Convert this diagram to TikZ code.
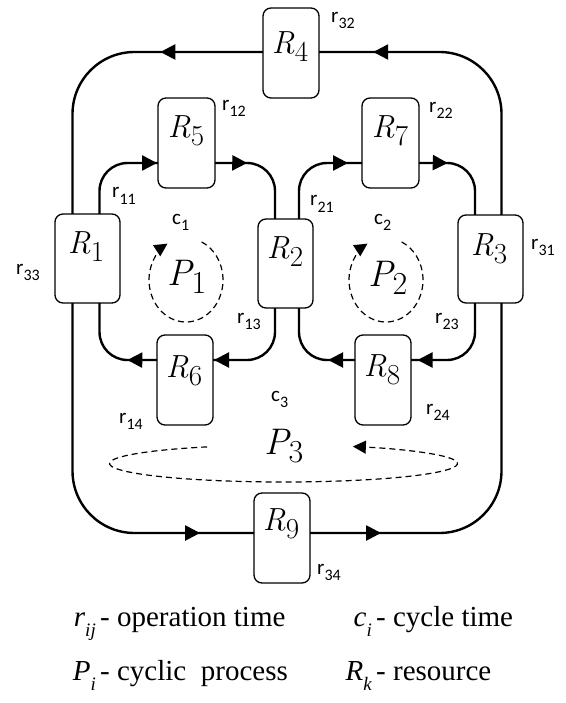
\documentclass[tikz,border=0pt]{standalone}
\usepackage{fontspec}
\newfontfamily\calib{Carlito}
\newfontfamily\tnr{Liberation Serif}
\usetikzlibrary{arrows.meta,decorations.markings}
\newcommand\Rlab[1]{{\fontsize{32}{32}\selectfont\itshape R}\raisebox{-8pt}{\fontsize{29}{29}\selectfont #1}}
\newcommand\Plab[1]{{\fontsize{37}{37}\selectfont\itshape P}\raisebox{-8pt}{\fontsize{32}{32}\selectfont #1}}
\newcommand\rlab[2]{{\calib\fontsize{21}{21}\selectfont #1\raisebox{-6pt}{\fontsize{16}{16}\selectfont #2}}}
\newcommand\lsym[2]{{\tnr\fontsize{29}{29}\selectfont\itshape #1\raisebox{-10pt}{\fontsize{19}{19}\selectfont #2}}}
\newcommand\ltxt[1]{{\tnr\fontsize{29}{29}\selectfont #1}}
\tikzset{
 box/.style={draw, line width=1.3pt, rounded corners=8pt, minimum width=#1, minimum height=90pt, inner sep=0pt, outer sep=0pt},
 box/.default=57pt,
 flow/.style={line width=2.4pt, rounded corners=#1},
 marr/.style={postaction={decorate,decoration={markings,mark=at position #1 with {\arrow{Triangle[length=15pt,width=15pt]}}}}},
 cyc/.style={line width=1.2pt, dash pattern=on 6pt off 4pt, -{Triangle[length=13pt,width=13pt]}},
 lab/.style={anchor=base, inner sep=0pt},
 tag/.style={anchor=base west, inner sep=0pt},
 sym/.style={anchor=base east, inner sep=0pt}
}
\begin{document}
\begin{tikzpicture}[x=1pt,y=-1pt]
\path[use as bounding box] (0,0) rectangle (565,703);
% line positions
\coordinate (xo1) at (72.5,0);
\coordinate (xi1) at (99.5,0);
\coordinate (xi2) at (275,0);
\coordinate (xi3) at (299,0);
\coordinate (xi4) at (475,0);
\coordinate (xo2) at (501.5,0);
\coordinate (yo1) at (0,52);
\coordinate (yi1) at (0,163);
\coordinate (yi2) at (0,360);
\coordinate (yo2) at (0,533);
% boxes
\node[box=65pt, minimum height=89pt] (R1) at (87.5,258.5) {};
\node[box=55pt, minimum height=89pt] (R2) at (285.5,263.5) {};
\node[box=65pt, minimum height=88pt] (R3) at (490.5,259) {};
\node[box=56pt] (R4) at (291,53) {};
\node[box=57pt] (R5) at (186.5,143) {};
\node[box=56pt] (R6) at (185,380) {};
\node[box=57pt] (R7) at (390.5,143) {};
\node[box=56pt] (R8) at (383,380) {};
\node[box=56pt] (R9) at (282,538) {};
% box labels
\node[lab] (l1) at (86,253) {\Rlab{1}};
\node[lab] (l2) at (285,258) {\Rlab{2}};
\node[lab] (l3) at (489,255) {\Rlab{3}};
\node[lab] (l4) at (290,54) {\Rlab{4}};
\node[lab] (l5) at (186,138) {\Rlab{5}};
\node[lab] (l6) at (184,377) {\Rlab{6}};
\node[lab] (l7) at (390,138) {\Rlab{7}};
\node[lab] (l8) at (382,376) {\Rlab{8}};
\node[lab] (l9) at (281,530) {\Rlab{9}};
% loop 1
\draw[flow=28pt, marr=0.99] (R1.north -| xi1) -- (xi1 |- yi1) -- (R5.west |- yi1);
\draw[flow=28pt, marr=0.31] (R5.east |- yi1) -- (xi2 |- yi1) -- (R2.north -| xi2);
\draw[flow=28pt, marr=0.99] (R2.south -| xi2) -- (xi2 |- yi2) -- (R6.east |- yi2);
\draw[flow=28pt, marr=0.29] (R6.west |- yi2) -- (xi1 |- yi2) -- (R1.south -| xi1);
% loop 2
\draw[flow=28pt, marr=0.87] (R2.north -| xi3) -- (xi3 |- yi1) -- (R7.west |- yi1);
\draw[flow=28pt, marr=0.30] (R7.east |- yi1) -- (xi4 |- yi1) -- (R3.north -| xi4);
\draw[flow=28pt, marr=0.94] (R3.south -| xi4) -- (xi4 |- yi2) -- (R8.east |- yi2);
\draw[flow=28pt, marr=0.28] (R8.west |- yi2) -- (xi3 |- yi2) -- (R2.south -| xi3);
% outer loop
\draw[flow=62pt, marr=0.83] (R3.north -| xo2) -- (xo2 |- yo1) -- (R4.east |- yo1);
\draw[flow=62pt, marr=0.315] (R4.west |- yo1) -- (xo1 |- yo1) -- (R1.north -| xo1);
\draw[flow=62pt, marr=0.86] (R1.south -| xo1) -- (xo1 |- yo2) -- (R9.west |- yo2);
\draw[flow=62pt, marr=0.18] (R9.east |- yo2) -- (xo2 |- yo2) -- (R3.south -| xo2);
% cycles
\coordinate (P1c) at (186,280);
\coordinate (P2c) at (386,280);
\coordinate (P3c) at (283.5,463.5);
\draw[cyc] (P1c) ++(-65:37 and 42) arc[start angle=-65, end angle=240, x radius=37, y radius=42];
\draw[cyc] (P2c) ++(-65:37 and 42) arc[start angle=-65, end angle=240, x radius=37, y radius=42];
\draw[cyc] (P3c) ++(-116:174 and 18.5) arc[start angle=-116, end angle=-426.5, x radius=174, y radius=18.5];
\node[tag] (P1) at (167,285) {\Plab{1}};
\node[tag] (P2) at (368,286) {\Plab{2}};
\node[tag] (P3) at (264,454) {\Plab{3}};
\node[tag] (c1) at (172,224) {\rlab{c}{1}};
\node[tag] (c2) at (374,224) {\rlab{c}{2}};
\node[tag] (c3) at (271,401) {\rlab{c}{3}};
% operation times
\node[tag] (r11) at (112,198) {\rlab{r}{11}};
\node[tag] (r12) at (222,111) {\rlab{r}{12}};
\node[tag] (r13) at (237,323) {\rlab{r}{13}};
\node[tag] (r14) at (119,423) {\rlab{r}{14}};
\node[tag] (r21) at (310,206) {\rlab{r}{21}};
\node[tag] (r22) at (429,113) {\rlab{r}{22}};
\node[tag] (r23) at (435,323) {\rlab{r}{23}};
\node[tag] (r24) at (426,414) {\rlab{r}{24}};
\node[tag] (r31) at (531,249) {\rlab{r}{31}};
\node[tag] (r32) at (331,23) {\rlab{r}{32}};
\node[tag] (r33) at (16,274) {\rlab{r}{33}};
\node[tag] (r34) at (317,574) {\rlab{r}{34}};
% legend
\node[sym] (s1) at (96,626) {\lsym{r}{ij}};
\node[tag] (t1) at (100,626) {\ltxt{- operation time}};
\node[sym] (s2) at (96,680) {\lsym{P}{i}};
\node[tag] (t2) at (100,680) {\ltxt{- cyclic\ \ process}};
\node[sym] (s3) at (372,626) {\lsym{c}{i}};
\node[tag] (t3) at (376,626) {\ltxt{- cycle time}};
\node[sym] (s4) at (372,680) {\lsym{R}{k}};
\node[tag] (t4) at (376,680) {\ltxt{- resource}};
\end{tikzpicture}
\end{document}
